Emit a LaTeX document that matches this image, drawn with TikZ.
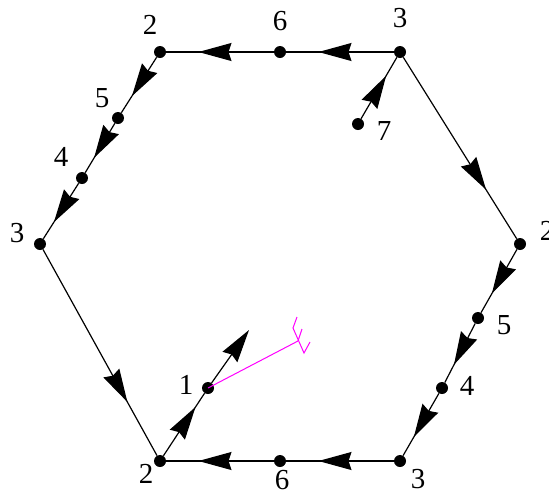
\documentclass[tikz,border=0pt]{standalone}
\usepackage{fontspec}
\setmainfont{Liberation Serif}
\usetikzlibrary{arrows.meta, decorations.markings}
\definecolor{pink}{RGB}{255,0,255}

\begin{document}
\begin{tikzpicture}[
        x=1pt, y=-1pt,
        dot/.style={circle, fill=black, inner sep=0pt, minimum size=12pt},
        num/.style={inner sep=0pt, font=\fontsize{29}{34}\selectfont},
        flow/.style={line width=1.2pt, postaction={decorate},
            decoration={markings, mark=at position #1 with {\arrow{Stealth[length=33pt,width=18pt,inset=3pt]}}}},
        flow/.default=0.7,
        hook/.style={pink, line width=1pt}
        ]
        \useasboundingbox (0,0) rectangle (549,496);

        % Vertices of the hexagon
        \node[dot] (TL) at (160,52) {};
        \node[dot] (TR) at (400,52) {};
        \node[dot] (R) at (520,244) {};
        \node[dot] (BR) at (400,461) {};
        \node[dot] (BL) at (160,461) {};
        \node[dot] (L) at (40,244) {};

        % Points on the edges
        \node[dot] (T6) at (280,52) {};
        \node[dot] (L5) at (118,118) {};
        \node[dot] (L4) at (82,178) {};
        \node[dot] (R5) at (478,318) {};
        \node[dot] (R4) at (442,388) {};
        \node[dot] (B6) at (280,461) {};
        \node[dot] (P1) at (208,388) {};
        \node[dot] (P7) at (358,124) {};

        % Labels
        \node[num] (lTL) at (150,25) {2};
        \node[num] (lT6) at (280,21) {6};
        \node[num] (lTR) at (400,18) {3};
        \node[num] (lL5) at (102,98) {5};
        \node[num] (lL4) at (61,157) {4};
        \node[num] (lL) at (17,233) {3};
        \node[num] (lP7) at (384,131) {7};
        \node[num] (lR) at (547,231) {2};
        \node[num] (lR5) at (504,325) {5};
        \node[num] (lR4) at (467,386) {4};
        \node[num] (lP1) at (186,385) {1};
        \node[num] (lBL) at (146,474) {2};
        \node[num] (lB6) at (282,480) {6};
        \node[num] (lBR) at (418,479) {3};

        % Edges
        \draw[flow] (TR) -- (T6);
        \draw[flow] (T6) -- (TL);
        \draw[flow] (TL) -- (L5);
        \draw[flow] (L5) -- (L4);
        \draw[flow] (L4) -- (L);
        \draw[flow=0.74] (L) -- (BL);
        \draw[flow] (BR) -- (B6);
        \draw[flow] (B6) -- (BL);
        \draw[flow=0.73] (TR) -- (R);
        \draw[flow] (R) -- (R5);
        \draw[flow] (R5) -- (R4);
        \draw[flow] (R4) -- (BR);
        \draw[flow] (P7) -- (TR);

        % Branch through 1
        \coordinate (tip) at (249,330);
        \draw[flow=0.78] (BL) -- (P1);
        \draw[line width=1.2pt, -{Stealth[length=33pt,width=18pt,inset=3pt]}] (P1) -- (tip);

        % Magenta mark
        \coordinate (fork) at (298,341);
        \draw[hook] (P1.center) -- (fork);
        \draw[hook] (297,317) -- (293,328) -- (304,353) -- (310,342);
        \draw[hook] (302,329) -- (298,341);

    \end{tikzpicture}
\end{document}
